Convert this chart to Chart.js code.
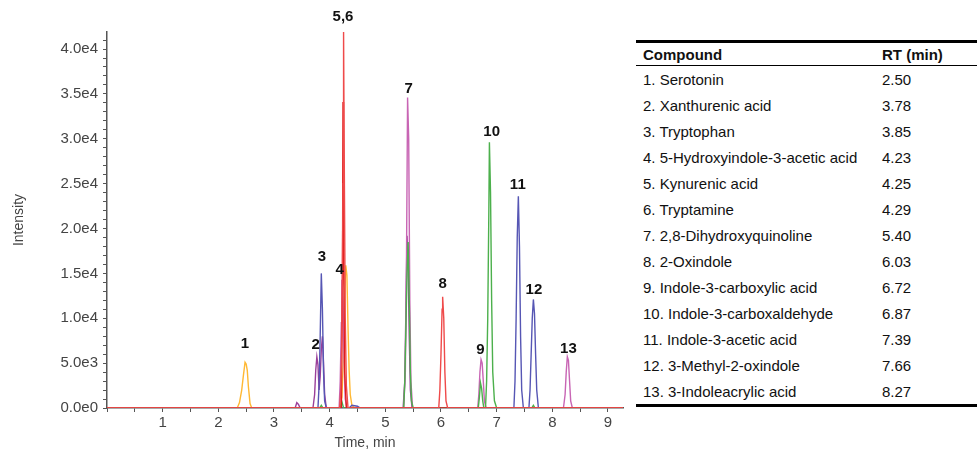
<!DOCTYPE html>
<html>
<head>
<meta charset="utf-8">
<script src="https://cdn.jsdelivr.net/npm/chart.js@4/dist/chart.umd.min.js"></script>
<style>
  body { margin: 0; background: #fff; font-family: "Liberation Sans", Arial, sans-serif; }
  #wrap { position: absolute; left: 0; top: 0; width: 630px; height: 456px; }
  #rt-table {
    position: absolute; left: 636px; top: 40px; width: 341px;
    border-collapse: collapse; font-size: 15px; color: #111;
    border-top: 3px solid #000; border-bottom: 3px solid #000;
  }
  #rt-table th { font-weight: bold; text-align: left; height: 22px; border-bottom: 1px solid #000; padding: 0 0 0 7px; }
  #rt-table td { height: 26px; padding: 0 0 0 7px; }
  #rt-table td.rt, #rt-table th.rt { width: 95px; padding-left: 0; }
</style>
</head>
<body>
<div id="wrap"><canvas id="chrom" width="630" height="456"></canvas></div>
<table id="rt-table">
  <thead><tr><th>Compound</th><th class="rt">RT (min)</th></tr></thead>
  <tbody id="rt-body"></tbody>
</table>
<script>
// compound table
const compounds = [
  "1. Serotonin", "2. Xanthurenic acid", "3. Tryptophan",
  "4. 5-Hydroxyindole-3-acetic acid", "5. Kynurenic acid", "6. Tryptamine",
  "7. 2,8-Dihydroxyquinoline", "8. 2-Oxindole", "9. Indole-3-carboxylic acid",
  "10. Indole-3-carboxaldehyde", "11. Indole-3-acetic acid",
  "12. 3-Methyl-2-oxindole", "13. 3-Indoleacrylic acid"
];
const retentionTimes = ["2.50", "3.78", "3.85", "4.23", "4.25", "4.29", "5.40",
  "6.03", "6.72", "6.87", "7.39", "7.66", "8.27"];

// axis ticks (labelled ones), minor ticks sit halfway / every 1e3
const xTicks = [1, 2, 3, 4, 5, 6, 7, 8, 9];
const yTicks = [0, 5000, 10000, 15000, 20000, 25000, 30000, 35000, 40000];

// traces, [time (min), intensity]
const orangeTrace = [[0,0],[2.34,0],[2.38,600],[2.42,2000],[2.45,3600],[2.48,5100],[2.50,4900],
  [2.52,4200],[2.54,2400],[2.57,500],[2.60,0],[4.18,0],[4.22,1200],[4.25,6000],[4.27,12500],
  [4.29,15900],[4.31,14800],[4.33,9000],[4.35,4200],[4.37,1500],[4.40,300],[4.45,0],[9.27,0]];
const purpleTrace = [[0,0],[3.38,0],[3.41,600],[3.44,400],[3.47,0],[3.70,0],[3.73,1500],[3.75,4200],
  [3.77,5700],[3.79,4800],[3.81,2000],[3.83,3500],[3.85,6500],[3.87,8000],[3.89,5000],[3.91,1500],
  [3.94,0],[5.32,0],[5.35,3000],[5.37,11000],[5.39,19200],[5.41,16000],[5.43,8000],[5.45,2000],
  [5.48,0],[9.27,0]];
const magentaTrace = [[0,0],[4.17,0],[4.19,3000],[4.21,9500],[4.22,14300],[4.24,12000],[4.26,5000],
  [4.28,1000],[4.31,0],[5.33,0],[5.36,4000],[5.38,16000],[5.40,34600],[5.42,30000],[5.44,12000],
  [5.46,3000],[5.49,0],[6.66,0],[6.68,1500],[6.70,4000],[6.72,5400],[6.74,5000],[6.76,3000],
  [6.78,800],[6.81,0],[8.20,0],[8.23,1500],[8.25,4000],[8.27,5700],[8.29,5300],[8.31,3000],
  [8.33,800],[8.36,0],[9.27,0]];
const blueTrace = [[0,0],[3.79,0],[3.81,2500],[3.83,8000],[3.85,15000],[3.87,11000],[3.89,4000],
  [3.91,800],[3.94,0],[4.35,0],[4.40,300],[4.50,200],[4.55,0],[7.31,0],[7.33,3000],[7.35,10000],
  [7.37,19000],[7.39,23600],[7.41,18000],[7.43,8000],[7.45,2000],[7.48,0],[7.58,0],[7.60,2000],
  [7.62,6000],[7.64,10000],[7.66,12100],[7.68,10500],[7.70,6000],[7.72,2000],[7.75,0],[9.27,0]];
const greenTrace = [[0,0],[3.82,0],[3.85,300],[3.88,0],[4.19,0],[4.22,700],[4.25,0],[5.33,0],
  [5.35,3000],[5.37,9000],[5.39,15000],[5.41,18500],[5.43,12000],[5.45,4000],[5.47,800],[5.50,0],
  [6.67,0],[6.69,1200],[6.71,2800],[6.73,2200],[6.75,800],[6.77,0],[6.80,0],[6.82,3000],
  [6.84,10000],[6.86,22000],[6.87,29600],[6.89,24000],[6.91,12000],[6.93,4000],[6.96,800],
  [7.00,0],[7.63,0],[7.66,300],[7.69,0],[9.27,0]];
const darkRedTrace = [[0,0],[4.21,0],[4.23,14000],[4.24,34100],[4.25,20000],[4.27,4000],[4.30,0],[9.27,0]];
const redTrace = [[0,0],[4.18,0],[4.20,2000],[4.22,8000],[4.24,25000],[4.25,41900],[4.26,30000],
  [4.28,10000],[4.30,2500],[4.33,0],[5.96,0],[5.98,2000],[6.00,6000],[6.02,11000],[6.03,12400],
  [6.05,10000],[6.07,4000],[6.09,800],[6.12,0],[9.27,0]];

// peak labels, [time, intensity, text]
const peakLabels = [[2.48,7140,"1"],[3.75,7030,"2"],[3.86,16810,"3"],[4.18,15370,"4"],
  [4.24,43590,"5,6"],[5.42,35590,"7"],[6.03,13810,"8"],[6.71,6480,"9"],[6.91,30810,"10"],
  [7.38,24920,"11"],[7.67,13140,"12"],[8.29,6590,"13"]];

const tbody = document.getElementById("rt-body");
compounds.forEach((c, i) => {
  const tr = document.createElement("tr");
  tr.innerHTML = `<td>${c}</td><td class="rt">${retentionTimes[i]}</td>`;
  tbody.appendChild(tr);
});

function toPts(arr) {
  return arr.map(p => ({ x: p[0], y: p[1] }));
}

// labelled ticks plus unlabelled minor ones in between
function withMinor(step, max) {
  const out = [];
  for (let v = 0; v <= max + 1e-9; v += step) {
    out.push({ value: Math.round(v * 1000) / 1000 });
  }
  return out;
}

const peakLabelPlugin = {
  id: "peakLabels",
  afterDatasetsDraw(chart) {
    const ctx = chart.ctx;
    const xs = chart.scales.x, ys = chart.scales.y;
    ctx.save();
    ctx.font = "bold 15px 'Liberation Sans', Arial, sans-serif";
    ctx.fillStyle = "#111";
    ctx.textAlign = "center";
    ctx.textBaseline = "middle";
    peakLabels.forEach(l => {
      ctx.fillText(l[2], xs.getPixelForValue(l[0]), ys.getPixelForValue(l[1]));
    });
    ctx.restore();
  }
};

function line(data, color) {
  return { data: toPts(data), borderColor: color, borderWidth: 1.4, pointRadius: 0, tension: 0, fill: false };
}

const tickFont = { family: "'Liberation Sans', Arial, sans-serif", size: 15 };

new Chart(document.getElementById("chrom").getContext("2d"), {
  type: "line",
  data: {
    datasets: [
      line(redTrace, "#ef4a4a"),
      line(darkRedTrace, "#e01c1c"),
      line(greenTrace, "#4cb04c"),
      line(blueTrace, "#5656b4"),
      line(magentaTrace, "#c865b4"),
      line(purpleTrace, "#9a3f9a"),
      line(orangeTrace, "#ffb833")
    ]
  },
  options: {
    responsive: false,
    devicePixelRatio: 1,
    animation: false,
    layout: { padding: { top: 32, right: 7, left: 0, bottom: 0 } },
    plugins: { legend: { display: false }, tooltip: { enabled: false } },
    scales: {
      x: {
        type: "linear", min: 0, max: 9.27,
        afterFit: s => { s.height = 48; },
        afterBuildTicks: s => { s.ticks = withMinor(0.5, 9.27); },
        ticks: {
          autoSkip: false, maxRotation: 0, color: "#444", font: tickFont, padding: 2,
          callback: v => xTicks.find(t => Math.abs(t - v) < 1e-6) !== undefined ? String(Math.round(v)) : ""
        },
        grid: { display: true, drawOnChartArea: false, drawTicks: true, tickLength: 4, color: "#555" },
        border: { display: true, color: "#555", width: 1.5 },
        title: { display: true, text: "Time, min", color: "#444", font: { family: "'Liberation Sans', Arial, sans-serif", size: 14 }, padding: { top: 0, bottom: 4 } }
      },
      y: {
        min: 0, max: 41900,
        afterFit: s => { s.width = 107; },
        afterBuildTicks: s => { s.ticks = withMinor(1000, 41900); },
        ticks: {
          autoSkip: false, color: "#444", font: tickFont, padding: 5,
          callback: v => yTicks.find(t => Math.abs(t - v) < 1e-3) !== undefined
            ? v.toExponential(1).replace("+", "") : ""
        },
        grid: { display: true, drawOnChartArea: false, drawTicks: true, tickLength: 4, color: "#555" },
        border: { display: true, color: "#555", width: 1.5 },
        title: { display: true, text: "Intensity", color: "#444", font: { family: "'Liberation Sans', Arial, sans-serif", size: 14 }, padding: { top: 11, bottom: 0 } }
      }
    }
  },
  plugins: [peakLabelPlugin]
});
</script>
</body>
</html>
